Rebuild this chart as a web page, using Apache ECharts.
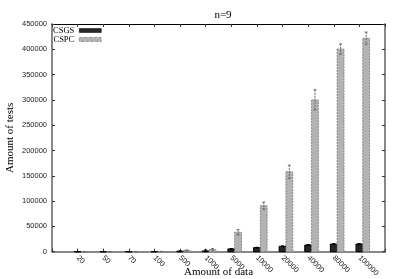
<!DOCTYPE html>
<html><head><meta charset="utf-8">
<script src="https://cdn.jsdelivr.net/npm/echarts@6/dist/echarts.min.js"></script>
<style>html,body{margin:0;padding:0;background:#fff}#c{width:399px;height:279px}</style>
</head><body><div id="c"></div>
<script>
const categories = ['20','50','70','100','500','1000','5000','10000','20000','40000','80000','100000'];
const csgs    = [30, 50, 80, 150, 800, 1500, 5500, 8000, 10700, 13200, 15000, 15200];
const csgsErr = [20, 30, 40, 80, 1500, 2000, 800, 800, 800, 900, 1000, 1000];
const cspc    = [60, 120, 200, 400, 2500, 4500, 38400, 91000, 158000, 300000, 400500, 422000];
const cspcErr = [30, 60, 100, 200, 800, 1500, 5000, 7000, 13000, 20000, 10000, 12000];
const yMin = 0, yMax = 450000, yStep = 50000;

const BW = 6.8;
function makeRender(offset, fill, stroke, dash, errColor, errDash) {
  return function (params, api) {
    const i = api.value(0), v = api.value(1), e = api.value(2);
    const base = api.coord([i, 0]);
    const top = api.coord([i, v]);
    const cx = base[0] + offset;
    const hi = api.coord([i, v + e]);
    const lo = api.coord([i, Math.max(0, v - e)]);
    return {
      type: 'group',
      children: [
        { type: 'rect', shape: { x: cx - BW / 2, y: top[1], width: BW, height: base[1] - top[1] },
          style: { fill: fill, stroke: stroke, lineWidth: 1, lineDash: dash } },
        { type: 'line', shape: { x1: cx, y1: hi[1], x2: cx, y2: lo[1] },
          style: { stroke: errColor, lineWidth: 1, lineDash: errDash } },
        { type: 'line', shape: { x1: cx - 1.5, y1: hi[1], x2: cx + 1.5, y2: hi[1] },
          style: { stroke: errColor, lineWidth: 1 } },
        { type: 'line', shape: { x1: cx - 1.5, y1: lo[1], x2: cx + 1.5, y2: lo[1] },
          style: { stroke: errColor, lineWidth: 1 } }
      ]
    };
  };
}

const chart = echarts.init(document.getElementById('c'), null, { renderer: 'canvas' });
const tickFont = { fontFamily: 'Liberation Sans', fontSize: 7.5, color: '#222' };
const serif = 'Liberation Serif';
chart.setOption({
  animation: false,
  backgroundColor: '#fff',
  title: { text: 'n=9', left: 218, top: 5, textAlign: 'center',
    textStyle: { fontFamily: serif, fontSize: 11, fontWeight: 'normal', color: '#000' } },
  legend: {
    orient: 'vertical', left: 53, top: 26, align: 'right', itemGap: 0, padding: 0,
    itemWidth: 22, itemHeight: 4,
    textStyle: { fontFamily: serif, fontSize: 8.5, color: '#000', lineHeight: 8.3 },
    data: [
      { name: 'CSGS', icon: 'rect', itemStyle: { color: '#262626', borderColor: '#000', borderWidth: 0.5 } },
      { name: 'CSPC', icon: 'rect', itemStyle: { color: '#b3b3b3', borderColor: '#888', borderWidth: 0.8, borderType: 'dashed' } }
    ]
  },
  grid: { left: 52, right: 14, top: 24, bottom: 27.3, outerBoundsMode: 'none', containLabel: false },
  xAxis: [
    { type: 'value', min: -1, max: 12, interval: 1, position: 'bottom',
      name: 'Amount of data', nameLocation: 'middle', nameGap: 15, nameMoveOverlap: false,
      nameTextStyle: { fontFamily: serif, fontSize: 11, color: '#000' },
      axisLine: { show: true, onZero: false, lineStyle: { color: '#888', width: 2 } },
      axisTick: { show: true, inside: true, length: 3, lineStyle: { color: '#333' } },
      axisLabel: { ...tickFont, rotate: -45, margin: 5,
        formatter: v => { const k = Math.round(v); return (k >= 0 && k < categories.length) ? categories[k] : ''; } },
      splitLine: { show: false } },
    { type: 'value', min: -1, max: 12, interval: 1, position: 'top',
      axisLine: { show: true, onZero: false, lineStyle: { color: '#000', width: 1 } },
      axisTick: { show: true, inside: true, length: 3, lineStyle: { color: '#333' } },
      axisLabel: { show: false }, splitLine: { show: false } }
  ],
  yAxis: [
    { type: 'value', min: yMin, max: yMax, interval: yStep, position: 'left',
      name: 'Amount of tests', nameLocation: 'middle', nameGap: 36, nameMoveOverlap: false,
      nameTextStyle: { fontFamily: serif, fontSize: 11, color: '#000' },
      axisLine: { show: true, onZero: false, lineStyle: { color: '#888', width: 2 } },
      axisTick: { show: true, inside: true, length: 3, lineStyle: { color: '#333' } },
      axisLabel: { ...tickFont, margin: 5, formatter: v => String(v) },
      splitLine: { show: false } },
    { type: 'value', min: yMin, max: yMax, interval: yStep, position: 'right',
      axisLine: { show: true, onZero: false, lineStyle: { color: '#888', width: 2 } },
      axisTick: { show: true, inside: true, length: 3, lineStyle: { color: '#333' } },
      axisLabel: { show: false }, splitLine: { show: false } }
  ],
  series: [
    { name: 'CSGS', type: 'custom', xAxisIndex: 0, yAxisIndex: 0,
      itemStyle: { color: '#262626' },
      renderItem: makeRender(0, '#262626', '#000', null, '#000', null),
      data: categories.map((c, i) => [i, csgs[i], csgsErr[i]]) },
    { name: 'CSPC', type: 'custom', xAxisIndex: 0, yAxisIndex: 0,
      itemStyle: { color: '#b3b3b3' },
      renderItem: makeRender(BW, '#b3b3b3', '#888', [2, 1], '#666', [2, 1]),
      data: categories.map((c, i) => [i, cspc[i], cspcErr[i]]) }
  ]
});
</script></body></html>
